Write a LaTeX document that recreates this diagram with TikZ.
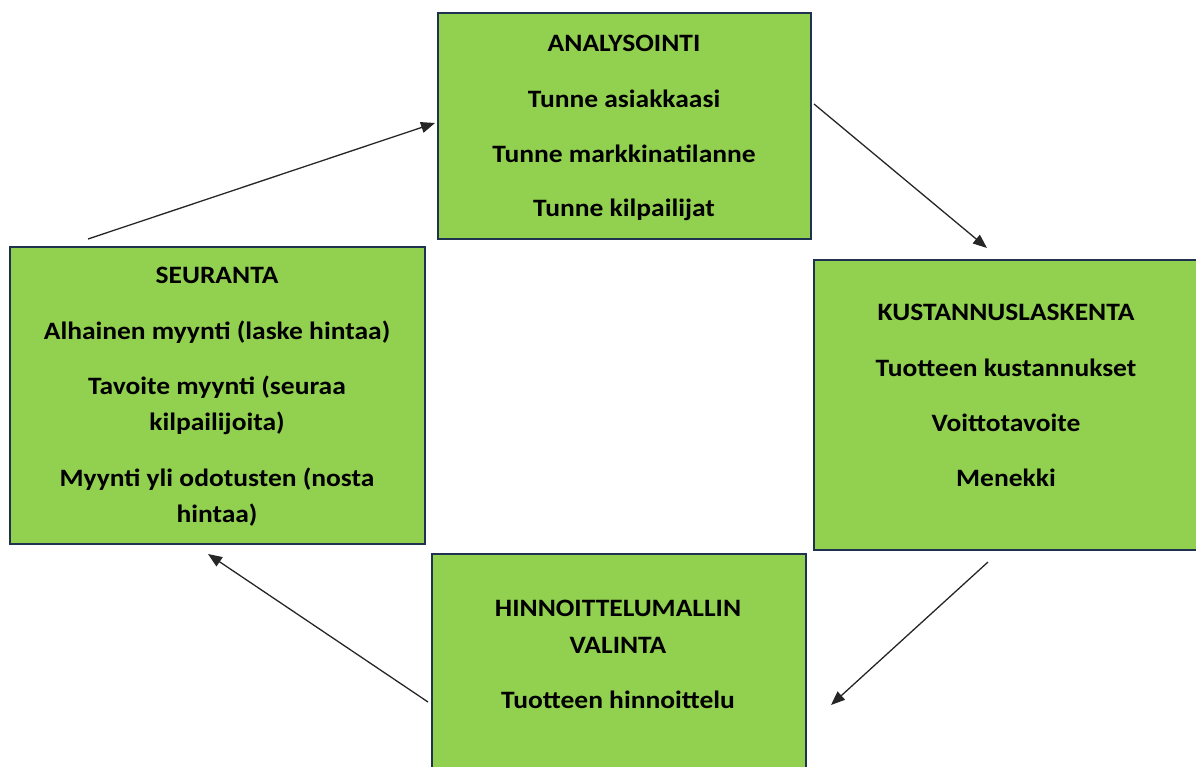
\documentclass[tikz,border=0pt]{standalone}
\usepackage{fontspec}
\setmainfont[FakeStretch=1.1]{Carlito}
\usetikzlibrary{arrows.meta}
\definecolor{boxgreen}{HTML}{92D050}
\definecolor{boxedge}{HTML}{1F3350}
\begin{document}
\begin{tikzpicture}[x=1pt,y=-1pt,
  stepbox/.style={draw=boxedge,line width=2.2pt,fill=boxgreen},
  txt/.style={font=\fontsize{25}{25}\selectfont\bfseries,inner sep=0pt,anchor=center},
  conn/.style={line width=1.3pt,draw=black!85,-{Triangle[length=14pt,width=11pt]}}]
\useasboundingbox (0,0) rectangle (1196,767);
% boxes
\path[stepbox] (438,13) rectangle (811,239);
\path[stepbox] (10,247) rectangle (425,544);
\path[stepbox] (814,260) rectangle (1200,550);
\path[stepbox] (432,554) rectangle (806,772);
% box nodes (names)
\node[inner sep=0pt,minimum width=373pt,minimum height=226pt] (A) at (624.5,126) {};
\node[inner sep=0pt,minimum width=415pt,minimum height=297pt] (S) at (217.5,395.5) {};
% texts
\node[txt] (a1) at (624,43) {ANALYSOINTI};
\node[txt] (a2) at (624,99) {Tunne asiakkaasi};
\node[txt] (a3) at (624,154) {Tunne markkinatilanne};
\node[txt] (a4) at (624,210) {Tunne kilpailijat};
\node[txt] (s1) at (217,275) {SEURANTA};
\node[txt] (s2) at (217,332) {Alhainen myynti (laske hintaa)};
\node[txt] (s3) at (217,387) {Tavoite myynti (seuraa};
\node[txt] (s4) at (217,423) {kilpailijoita)};
\node[txt] (s5) at (217,479) {Myynti yli odotusten (nosta};
\node[txt] (s6) at (217,515) {hintaa)};
\node[txt] (k1) at (1006,312) {KUSTANNUSLASKENTA};
\node[txt] (k2) at (1006,368) {Tuotteen kustannukset};
\node[txt] (k3) at (1006,423) {Voittotavoite};
\node[txt] (k4) at (1006,478) {Menekki};
\node[txt] (h1) at (618,608) {HINNOITTELUMALLIN};
\node[txt] (h2) at (618,645) {VALINTA};
\node[txt] (h3) at (618,700) {Tuotteen hinnoittelu};
% connector ends
\coordinate (p1) at (88,239);
\coordinate (q1) at (435,123);
\coordinate (p2) at (814,104);
\coordinate (q2) at (987,248);
\coordinate (p3) at (988,562);
\coordinate (q3) at (831,705);
\coordinate (p4) at (428,702);
\coordinate (q4) at (208,554);
\draw[conn] (p1) -- (q1);
\draw[conn] (p2) -- (q2);
\draw[conn] (p3) -- (q3);
\draw[conn] (p4) -- (q4);
\end{tikzpicture}
\end{document}
